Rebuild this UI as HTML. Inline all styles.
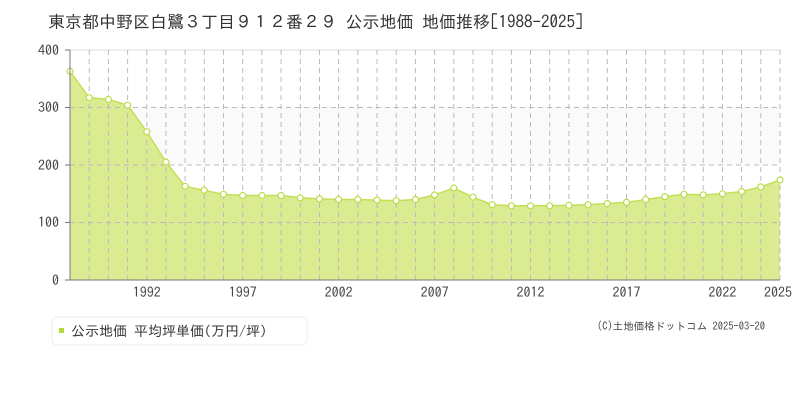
<!DOCTYPE html>
<html><head><meta charset="utf-8"><style>
body{margin:0;background:#fff;font-family:"Liberation Sans","Noto Sans CJK JP",sans-serif;}
</style></head><body>
<svg width="800" height="400" xmlns="http://www.w3.org/2000/svg" font-family="IPAGothic, Noto Sans CJK JP, sans-serif">
<rect width="800" height="400" fill="#fff"/>
<text x="48" y="28" font-size="17" fill="#333">東京都中野区白鷺３丁目９１２番２９ 公示地価 地価推移[1988-2025]</text>
<rect x="70" y="107.5" width="710" height="57.5" fill="#fafafb"/>
<path d="M70,280 L70,71.3 89.2,97.7 108.4,99.5 127.6,105.2 146.8,131.7 165.9,162.1 185.1,186.3 204.3,190.3 223.5,194.3 242.7,195.5 261.9,195.5 281.1,195.5 300.3,197.8 319.5,198.9 338.6,199.5 357.8,199.5 377,200.1 396.2,200.7 415.4,199.5 434.6,194.9 453.8,188 473,197.2 492.2,204.7 511.4,205.8 530.5,205.8 549.7,205.8 568.9,205.3 588.1,204.7 607.3,203.5 626.5,202.4 645.7,199.5 664.9,196.6 684,194.3 703.2,194.9 722.4,193.8 741.6,191.5 760.8,186.9 780,180 L780,280 Z" fill="#dbeb91"/>
<line x1="70" y1="50" x2="780" y2="50" stroke="#ddd"/>
<g stroke="#bbb" stroke-dasharray="5,4" stroke-width="1">
<line x1="70" y1="107.5" x2="780" y2="107.5"/><line x1="70" y1="165" x2="780" y2="165"/><line x1="70" y1="222.5" x2="780" y2="222.5"/>
<line x1="89.2" y1="50" x2="89.2" y2="280"/><line x1="108.4" y1="50" x2="108.4" y2="280"/><line x1="127.6" y1="50" x2="127.6" y2="280"/><line x1="146.8" y1="50" x2="146.8" y2="280"/><line x1="165.9" y1="50" x2="165.9" y2="280"/><line x1="185.1" y1="50" x2="185.1" y2="280"/><line x1="204.3" y1="50" x2="204.3" y2="280"/><line x1="223.5" y1="50" x2="223.5" y2="280"/><line x1="242.7" y1="50" x2="242.7" y2="280"/><line x1="261.9" y1="50" x2="261.9" y2="280"/><line x1="281.1" y1="50" x2="281.1" y2="280"/><line x1="300.3" y1="50" x2="300.3" y2="280"/><line x1="319.5" y1="50" x2="319.5" y2="280"/><line x1="338.6" y1="50" x2="338.6" y2="280"/><line x1="357.8" y1="50" x2="357.8" y2="280"/><line x1="377" y1="50" x2="377" y2="280"/><line x1="396.2" y1="50" x2="396.2" y2="280"/><line x1="415.4" y1="50" x2="415.4" y2="280"/><line x1="434.6" y1="50" x2="434.6" y2="280"/><line x1="453.8" y1="50" x2="453.8" y2="280"/><line x1="473" y1="50" x2="473" y2="280"/><line x1="492.2" y1="50" x2="492.2" y2="280"/><line x1="511.4" y1="50" x2="511.4" y2="280"/><line x1="530.5" y1="50" x2="530.5" y2="280"/><line x1="549.7" y1="50" x2="549.7" y2="280"/><line x1="568.9" y1="50" x2="568.9" y2="280"/><line x1="588.1" y1="50" x2="588.1" y2="280"/><line x1="607.3" y1="50" x2="607.3" y2="280"/><line x1="626.5" y1="50" x2="626.5" y2="280"/><line x1="645.7" y1="50" x2="645.7" y2="280"/><line x1="664.9" y1="50" x2="664.9" y2="280"/><line x1="684" y1="50" x2="684" y2="280"/><line x1="703.2" y1="50" x2="703.2" y2="280"/><line x1="722.4" y1="50" x2="722.4" y2="280"/><line x1="741.6" y1="50" x2="741.6" y2="280"/><line x1="760.8" y1="50" x2="760.8" y2="280"/><line x1="780" y1="50" x2="780" y2="280"/>
</g>
<polyline points="70,71.3 89.2,97.7 108.4,99.5 127.6,105.2 146.8,131.7 165.9,162.1 185.1,186.3 204.3,190.3 223.5,194.3 242.7,195.5 261.9,195.5 281.1,195.5 300.3,197.8 319.5,198.9 338.6,199.5 357.8,199.5 377,200.1 396.2,200.7 415.4,199.5 434.6,194.9 453.8,188 473,197.2 492.2,204.7 511.4,205.8 530.5,205.8 549.7,205.8 568.9,205.3 588.1,204.7 607.3,203.5 626.5,202.4 645.7,199.5 664.9,196.6 684,194.3 703.2,194.9 722.4,193.8 741.6,191.5 760.8,186.9 780,180" fill="none" stroke="#c3df55" stroke-width="1.5"/>
<g fill="#fff" stroke="#bcdc4c" stroke-width="1.2">
<circle cx="70" cy="71.3" r="3"/><circle cx="89.2" cy="97.7" r="3"/><circle cx="108.4" cy="99.5" r="3"/><circle cx="127.6" cy="105.2" r="3"/><circle cx="146.8" cy="131.7" r="3"/><circle cx="165.9" cy="162.1" r="3"/><circle cx="185.1" cy="186.3" r="3"/><circle cx="204.3" cy="190.3" r="3"/><circle cx="223.5" cy="194.3" r="3"/><circle cx="242.7" cy="195.5" r="3"/><circle cx="261.9" cy="195.5" r="3"/><circle cx="281.1" cy="195.5" r="3"/><circle cx="300.3" cy="197.8" r="3"/><circle cx="319.5" cy="198.9" r="3"/><circle cx="338.6" cy="199.5" r="3"/><circle cx="357.8" cy="199.5" r="3"/><circle cx="377" cy="200.1" r="3"/><circle cx="396.2" cy="200.7" r="3"/><circle cx="415.4" cy="199.5" r="3"/><circle cx="434.6" cy="194.9" r="3"/><circle cx="453.8" cy="188" r="3"/><circle cx="473" cy="197.2" r="3"/><circle cx="492.2" cy="204.7" r="3"/><circle cx="511.4" cy="205.8" r="3"/><circle cx="530.5" cy="205.8" r="3"/><circle cx="549.7" cy="205.8" r="3"/><circle cx="568.9" cy="205.3" r="3"/><circle cx="588.1" cy="204.7" r="3"/><circle cx="607.3" cy="203.5" r="3"/><circle cx="626.5" cy="202.4" r="3"/><circle cx="645.7" cy="199.5" r="3"/><circle cx="664.9" cy="196.6" r="3"/><circle cx="684" cy="194.3" r="3"/><circle cx="703.2" cy="194.9" r="3"/><circle cx="722.4" cy="193.8" r="3"/><circle cx="741.6" cy="191.5" r="3"/><circle cx="760.8" cy="186.9" r="3"/><circle cx="780" cy="180" r="3"/>
</g>
<g stroke="#777">
<line x1="70" y1="50" x2="70" y2="280"/>
<line x1="65" y1="280" x2="780" y2="280"/>
<line x1="65" y1="50" x2="70" y2="50"/><line x1="65" y1="107.5" x2="70" y2="107.5"/><line x1="65" y1="165" x2="70" y2="165"/><line x1="65" y1="222.5" x2="70" y2="222.5"/>
</g>
<g font-size="14" fill="#444" text-anchor="end">
<text x="59" y="55">400</text><text x="59" y="112">300</text><text x="59" y="170">200</text><text x="59" y="227">100</text><text x="59" y="285">0</text>
</g>
<g font-size="14" fill="#444" text-anchor="middle">
<text x="146.8" y="297">1992</text><text x="242.7" y="297">1997</text><text x="338.6" y="297">2002</text><text x="434.6" y="297">2007</text><text x="530.5" y="297">2012</text><text x="626.5" y="297">2017</text><text x="722.4" y="297">2022</text><text x="778" y="297">2025</text>
</g>
<rect x="52" y="317" width="255" height="28" rx="5" fill="#fff" stroke="#eee"/>
<rect x="59" y="328" width="5" height="5" fill="#b5d93a"/>
<text x="71" y="336" font-size="14" fill="#333">公示地価 平均坪単価(万円/坪)</text>
<text x="765" y="330" font-size="10.5" fill="#444" text-anchor="end">(C)土地価格ドットコム 2025-03-20</text>
</svg>
</body></html>
